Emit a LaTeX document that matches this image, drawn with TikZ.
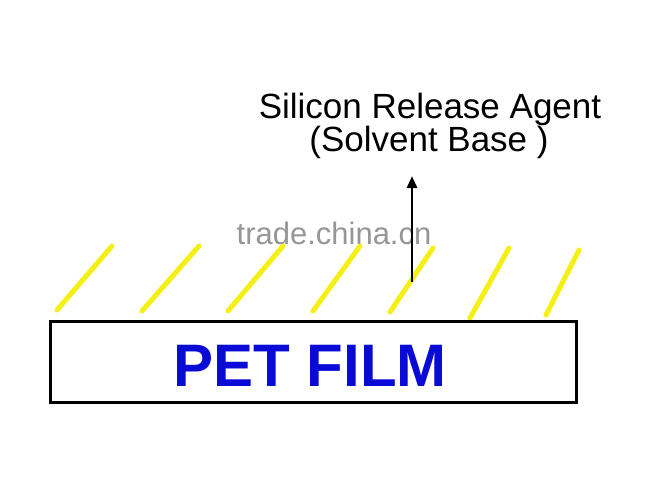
\documentclass[tikz,border=0pt]{standalone}
\usepackage{fontspec}
\setmainfont{Liberation Sans}
\usetikzlibrary{arrows.meta}
\definecolor{coatyellow}{RGB}{245,240,20}
\definecolor{petblue}{RGB}{10,10,215}
\definecolor{wmgray}{RGB}{150,150,150}
\begin{document}
\begin{tikzpicture}[x=1pt,y=-1pt,
  coat/.style={draw=coatyellow,line width=5pt,line cap=round},
  film/.style={draw=black,line width=3pt,fill=white},
  label/.style={font=\fontsize{35}{38}\selectfont,anchor=base,inner sep=0pt},
  flow/.style={draw=black,line width=2.8pt,-{Triangle[length=12pt,width=10pt]}}]
\useasboundingbox[fill=white] (0,0) rectangle (667,483);
% watermark
\node[font=\fontsize{31}{33}\selectfont,text=wmgray,anchor=base,inner sep=0pt] (wm) at (334,244) {trade.china.cn};
% yellow coating strokes
\draw[coat] (57,310) -- (112,246);
\draw[coat] (142,311) -- (199,246);
\draw[coat] (228,311) -- (283,246);
\draw[coat] (313,311) -- (360,246);
\draw[coat] (390,312) -- (433,248);
\draw[coat] (470,318) -- (509,248);
\draw[coat] (546,315) -- (579,250);
% film
\node[film,minimum width=526pt,minimum height=81pt,inner sep=0pt] (pet) at (313,362) {};
\node[font=\fontsize{60}{62}\selectfont\bfseries,text=petblue,inner sep=0pt,anchor=base] (pettext) at (310,386) {PET FILM};
% labels
\node[label] (agent) at (430,118) {Silicon Release Agent};
\node[label] (base) at (429,151) {(Solvent Base )};
% arrow
\coordinate (arrowfoot) at (412,282);
\coordinate (arrowtip) at (412,176);
\draw[flow] (arrowfoot) -- (arrowtip);
\end{tikzpicture}
\end{document}
